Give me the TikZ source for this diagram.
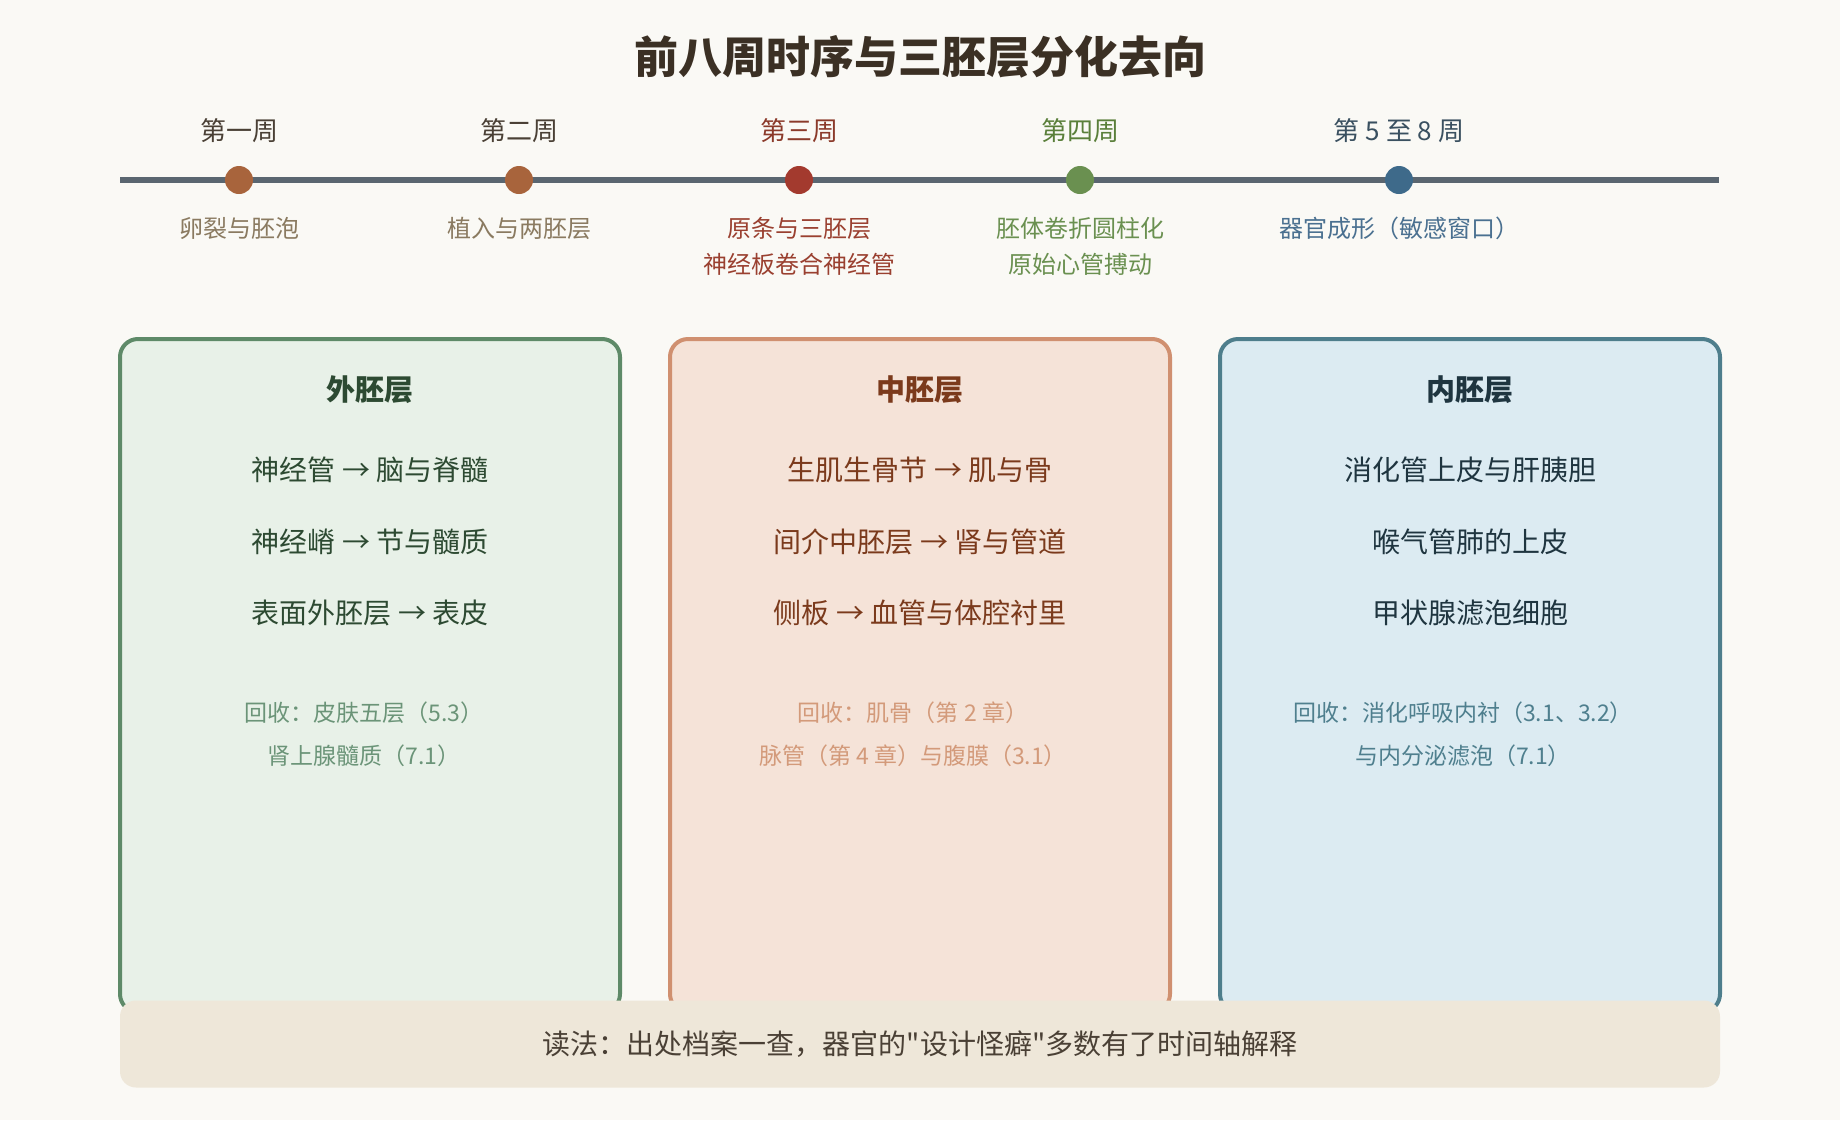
\documentclass[tikz,border=0pt]{standalone}
\usepackage{fontspec}
\setmainfont{Noto Sans CJK SC}[Ligatures=TeXOff]
\definecolor{bgc}{HTML}{FAF9F5}
\definecolor{titlec}{HTML}{3B3024}
\definecolor{linec}{HTML}{5A6670}
\definecolor{dotA}{HTML}{A8643C}
\definecolor{dotB}{HTML}{A33A2E}
\definecolor{dotC}{HTML}{6A9050}
\definecolor{dotD}{HTML}{3E6A8A}
\definecolor{wkA}{HTML}{4A4035}
\definecolor{wkB}{HTML}{8B3A2A}
\definecolor{wkC}{HTML}{5A7F3A}
\definecolor{wkD}{HTML}{3A5060}
\definecolor{dsA}{HTML}{8A7A60}
\definecolor{dsB}{HTML}{9A4030}
\definecolor{dsC}{HTML}{6A9050}
\definecolor{dsD}{HTML}{4A7090}
\definecolor{ectoFill}{HTML}{E8F1E8}
\definecolor{ectoLine}{HTML}{5E8A68}
\definecolor{ectoText}{HTML}{2D4A32}
\definecolor{ectoNote}{HTML}{6B9478}
\definecolor{mesoFill}{HTML}{F5E3D8}
\definecolor{mesoLine}{HTML}{D09070}
\definecolor{mesoText}{HTML}{7B3A1C}
\definecolor{mesoNote}{HTML}{D39A7A}
\definecolor{endoFill}{HTML}{DCEBF2}
\definecolor{endoLine}{HTML}{4E7E8C}
\definecolor{endoText}{HTML}{1F3540}
\definecolor{endoNote}{HTML}{4F7F8E}
\definecolor{noteFill}{HTML}{EEE7D9}
\definecolor{noteText}{HTML}{4A4035}
\tikzset{
  dotnode/.style={circle, inner sep=0pt, minimum size=28pt},
  weeklabel/.style={inner sep=0pt, font=\fontsize{26}{30}\selectfont},
  desclabel/.style={inner sep=0pt, align=center, font=\fontsize{24}{36}\selectfont},
  layerbox/.style={rectangle, rounded corners=18pt, line width=4pt, anchor=north west,
    minimum width=500pt, minimum height=673pt, inner sep=0pt, outer sep=0pt},
  layertitle/.style={inner sep=0pt, font=\fontsize{29}{34}\selectfont\bfseries},
  layeritem/.style={inner sep=0pt, font=\fontsize{28}{32}\selectfont},
  layernote/.style={inner sep=0pt, align=center, font=\fontsize{23}{43}\selectfont},
}
\begin{document}
\begin{tikzpicture}[x=1pt,y=-1pt]
\useasboundingbox (0,0) rectangle (1840,1120);
\fill[bgc] (0,0) rectangle (1840,1120);

\node[inner sep=0pt, text=titlec, font=\fontsize{44}{52}\selectfont\bfseries] (title) at (920,57) {前八周时序与三胚层分化去向};

% timeline
\coordinate (tls) at (120,180);
\coordinate (tle) at (1719,180);
\draw[line width=6pt, linec] (tls) -- (tle);

\node[dotnode, fill=dotA] (d1) at (239,180) {};
\node[dotnode, fill=dotA] (d2) at (519,180) {};
\node[dotnode, fill=dotB] (d3) at (799,180) {};
\node[dotnode, fill=dotC] (d4) at (1080,180) {};
\node[dotnode, fill=dotD] (d5) at (1399,180) {};

\node[weeklabel, text=wkA] (w1) at (239,131) {第一周};
\node[weeklabel, text=wkA] (w2) at (519,131) {第二周};
\node[weeklabel, text=wkB] (w3) at (799,131) {第三周};
\node[weeklabel, text=wkC] (w4) at (1080,131) {第四周};
\node[weeklabel, text=wkD] (w5) at (1399,131) {第 5 至 8 周};

\node[desclabel, text=dsA] (s1) at (239,228) {卵裂与胚泡};
\node[desclabel, text=dsA] (s2) at (519,228) {植入与两胚层};
\node[desclabel, text=dsB] (s3) at (799,246) {原条与三胚层\\神经板卷合神经管};
\node[desclabel, text=dsC] (s4) at (1080,246) {胚体卷折圆柱化\\原始心管搏动};
\node[desclabel, text=dsD] (s5) at (1399,228) {器官成形（敏感窗口）};

% layer boxes
\node[layerbox, fill=ectoFill, draw=ectoLine] (ecto) at (120,339) {};
\node[layerbox, fill=mesoFill, draw=mesoLine] (meso) at (670,339) {};
\node[layerbox, fill=endoFill, draw=endoLine] (endo) at (1220,339) {};

% ectoderm
\node[layertitle, text=ectoText] (et) at (370,390) {外胚层};
\node[layeritem, text=ectoText] (e1) at (370,470) {神经管 → 脑与脊髓};
\node[layeritem, text=ectoText] (e2) at (370,542) {神经嵴 → 节与髓质};
\node[layeritem, text=ectoText] (e3) at (370,613) {表面外胚层 → 表皮};
\node[layernote, text=ectoNote] (en) at (364,734) {回收：皮肤五层（5.3）\\肾上腺髓质（7.1）};

% mesoderm
\node[layertitle, text=mesoText] (mt) at (920,390) {中胚层};
\node[layeritem, text=mesoText] (m1) at (920,470) {生肌生骨节 → 肌与骨};
\node[layeritem, text=mesoText] (m2) at (920,542) {间介中胚层 → 肾与管道};
\node[layeritem, text=mesoText] (m3) at (920,613) {侧板 → 血管与体腔衬里};
\node[layernote, text=mesoNote] (mn) at (913,734) {回收：肌骨（第 2 章）\\脉管（第 4 章）与腹膜（3.1）};

% endoderm
\node[layertitle, text=endoText] (nt) at (1470,390) {内胚层};
\node[layeritem, text=endoText] (n1) at (1470,470) {消化管上皮与肝胰胆};
\node[layeritem, text=endoText] (n2) at (1470,542) {喉气管肺的上皮};
\node[layeritem, text=endoText] (n3) at (1470,613) {甲状腺滤泡细胞};
\node[layernote, text=endoNote] (nn) at (1463,734) {回收：消化呼吸内衬（3.1、3.2）\\与内分泌滤泡（7.1）};

% note bar
\node[rectangle, rounded corners=16pt, fill=noteFill, minimum width=1600pt, minimum height=87pt,
  inner sep=0pt, outer sep=0pt, text=noteText, font=\fontsize{28}{32}\selectfont] (note) at (920,1044)
  {读法：出处档案一查，器官的"设计怪癖"多数有了时间轴解释};
\end{tikzpicture}
\end{document}
